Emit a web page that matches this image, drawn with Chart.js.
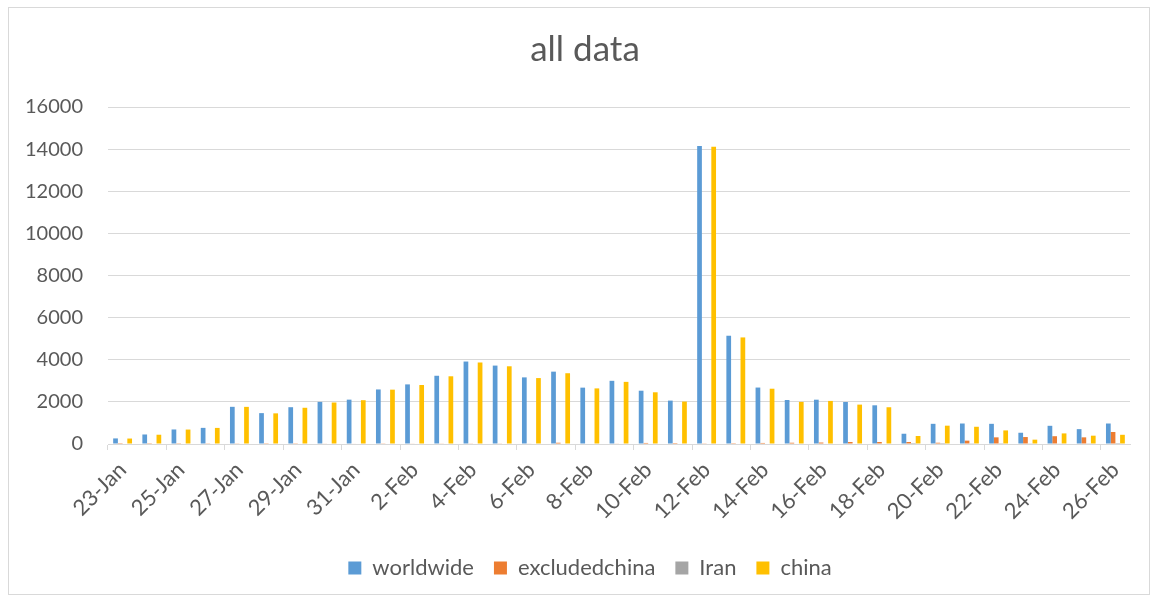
<!DOCTYPE html>
<html>
<head>
<meta charset="utf-8">
<title>all data</title>
<script src="https://cdn.jsdelivr.net/npm/chart.js@4.4.1/dist/chart.umd.min.js"></script>
<style>
  html, body { margin: 0; padding: 0; background: #ffffff; }
  #wrap { position: relative; width: 1159px; height: 603px; }
  #frame { position: absolute; left: 8px; top: 7px; width: 1142px; height: 588px; border: 1px solid #d9d9d9; box-sizing: border-box; }
  #c { position: absolute; left: 0; top: 0; }
</style>
</head>
<body>
<div id="wrap">
  <div id="frame"></div>
  <canvas id="c" width="1159" height="603"></canvas>
</div>
<script>
// Daily new cases, 23 Jan – 26 Feb
const dates = [
  '23-Jan','24-Jan','25-Jan','26-Jan','27-Jan','28-Jan','29-Jan','30-Jan','31-Jan',
  '1-Feb','2-Feb','3-Feb','4-Feb','5-Feb','6-Feb','7-Feb','8-Feb','9-Feb','10-Feb',
  '11-Feb','12-Feb','13-Feb','14-Feb','15-Feb','16-Feb','17-Feb','18-Feb','19-Feb',
  '20-Feb','21-Feb','22-Feb','23-Feb','24-Feb','25-Feb','26-Feb'
];

const worldwide = [
  265, 452, 690, 766, 1765, 1466, 1747, 2000, 2106,
  2590, 2830, 3240, 3915, 3723, 3163, 3435, 2676, 3000, 2530,
  2060, 14150, 5140, 2680, 2088, 2104, 1994, 1837, 487,
  958, 973, 958, 534, 864, 706, 973
];

const excludedchina = [
  6, 8, 10, 14, 16, 10, 12, 20, 22,
  15, 20, 18, 30, 30, 20, 60, 25, 28, 50,
  45, 15, 40, 50, 60, 70, 95, 95, 95,
  60, 160, 316, 330, 370, 316, 570
];

const iran = [
  0, 0, 0, 0, 0, 0, 0, 0, 0,
  0, 0, 0, 0, 0, 0, 0, 0, 0, 0,
  0, 0, 0, 0, 0, 0, 0, 0, 2,
  3, 13, 10, 15, 18, 34, 44
];

const china = [
  259, 440, 686, 764, 1763, 1455, 1720, 1970, 2080,
  2580, 2800, 3215, 3870, 3690, 3130, 3360, 2640, 2950, 2455,
  2015, 14108, 5060, 2625, 2000, 2045, 1870, 1745, 380,
  870, 818, 645, 206, 503, 395, 437
];

const yTicks = [0, 2000, 4000, 6000, 8000, 10000, 12000, 14000, 16000];

const textColor = '#595959';
const gridColor = '#d9d9d9';
const fontFamily = 'Lato, "Open Sans", sans-serif';

const series = [
  { label: 'worldwide', data: worldwide, color: '#5B9BD5' },
  { label: 'excludedchina', data: excludedchina, color: '#ED7D31' },
  { label: 'Iran', data: iran, color: '#A5A5A5' },
  { label: 'china', data: china, color: '#FFC000' }
];

// Centre the title and legend on the plot rather than on the whole canvas
const centreOnPlot = {
  id: 'centreOnPlot',
  afterLayout(chart) {
    const shift = (box, dx) => {
      if (!box) return;
      box.left += dx;
      box.right += dx;
    };
    shift(chart.titleBlock, 20);
    shift(chart.legend, 25);
  }
};

new Chart(document.getElementById('c'), {
  type: 'bar',
  data: {
    labels: dates,
    datasets: series.map(s => ({
      label: s.label,
      data: s.data,
      backgroundColor: s.color,
      borderWidth: 0,
      categoryPercentage: 0.646,
      barPercentage: 1.0
    }))
  },
  plugins: [centreOnPlot],
  options: {
    responsive: false,
    animation: false,
    devicePixelRatio: 1,
    layout: { padding: { left: 0, right: 29, top: 0, bottom: 14 } },
    plugins: {
      title: {
        display: true,
        text: 'all data',
        color: textColor,
        font: { family: fontFamily, size: 35, weight: 'normal' },
        padding: { top: 29, bottom: 36 }
      },
      legend: {
        display: true,
        position: 'bottom',
        labels: {
          color: textColor,
          font: { family: fontFamily, size: 22 },
          boxWidth: 13,
          boxHeight: 13,
          padding: 20
        }
      },
      tooltip: { enabled: false }
    },
    scales: {
      x: {
        afterFit: scale => { scale.height = 93; },
        grid: {
          display: true,
          drawOnChartArea: false,
          drawTicks: true,
          tickLength: 6,
          offset: true,
          color: ctx => (ctx.index % 2 === 0 ? gridColor : 'rgba(0,0,0,0)'),
          lineWidth: 1
        },
        border: { display: true, color: gridColor, width: 1 },
        ticks: {
          autoSkip: false,
          minRotation: 45,
          maxRotation: 45,
          padding: 7,
          color: textColor,
          font: { family: fontFamily, size: 22 },
          callback: function (value, index) {
            return index % 2 === 0 ? this.getLabelForValue(value) : '';
          }
        }
      },
      y: {
        min: 0,
        max: 16000,
        afterFit: scale => { scale.width = 108; },
        afterBuildTicks: scale => { scale.ticks = yTicks.map(v => ({ value: v })); },
        grid: {
          color: gridColor,
          lineWidth: 1,
          drawTicks: false
        },
        border: { display: false },
        ticks: {
          padding: 25,
          color: textColor,
          font: { family: fontFamily, size: 20 },
          callback: value => String(value)
        }
      }
    }
  }
});
</script>
</body>
</html>
